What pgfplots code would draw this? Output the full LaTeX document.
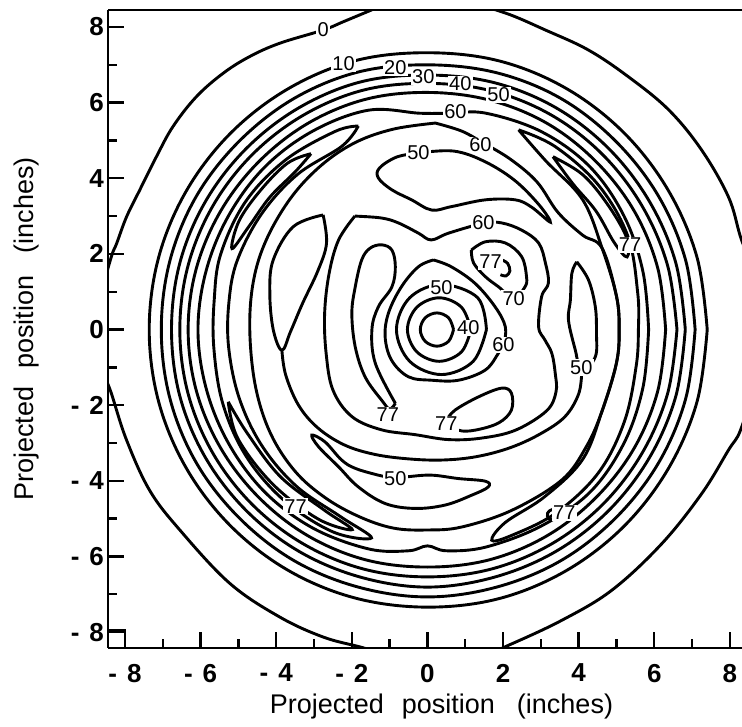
\documentclass[border=0pt]{standalone}
\usepackage{fontspec}
\setmainfont{Liberation Sans}
\usepackage{pgfplots}
\pgfplotsset{compat=1.18}
\begin{document}
\begin{tikzpicture}
\begin{axis}[
  scale only axis, width=317pt, height=319pt,
  xmin=-8.45, xmax=8.32, ymin=-8.42, ymax=8.45,
  axis y line*=left, axis x line*=box,
  axis line style={line width=1.3pt},
  xtick={-8,-6,...,8}, ytick={-8,-6,...,8},
  minor xtick={-7,-5,...,7}, minor ytick={-7,-5,...,7},
  xticklabels={-\hspace{5pt}8,-\hspace{5pt}6,-\hspace{5pt}4,-\hspace{5pt}2,0,2,4,6,8},
  yticklabels={-\hspace{5pt}8,-\hspace{5pt}6,-\hspace{5pt}4,-\hspace{5pt}2,0,2,4,6,8},
  xtick pos=left, ytick pos=left, tick align=inside,
  major tick length=8pt, minor tick length=4.5pt,
  every tick/.style={black, line width=1.2pt},
  tick label style={font=\fontsize{13}{13}\selectfont\bfseries},
  xticklabel style={yshift=-4.5pt},
  yticklabel style={xshift=1.5pt},
  xlabel={Projected\hspace{9pt}position\hspace{11pt}(inches)},
  ylabel={Projected\hspace{9pt}position\hspace{11pt}(inches)},
  label style={font=\fontsize{13.5}{13.5}\selectfont},
  xlabel style={at={(axis description cs:0.526,0)}, anchor=center, yshift=-29.5pt},
  ylabel style={at={(axis description cs:-0.128,0.5)}, anchor=center},
  clip=true,
]
\pgfplotsset{ct/.style={black, solid, line width=1.45pt, smooth, tension=0.6, mark=none}}
% ring 0
\addplot[ct] coordinates {(-1.48,8.45) (-2.2,8.15) (-2.76,7.92) (-3.91,7.57) (-4.70,7.22) (-5.40,6.78) (-6.11,6.16) (-6.73,5.37) (-7.17,4.57) (-7.61,3.69) (-7.96,2.98) (-8.22,2.28) (-8.36,1.93) (-8.6,1.0) (-8.7,0) (-8.6,-1.0) (-8.36,-1.69) (-7.96,-2.92) (-7.35,-4.25) (-6.55,-5.30) (-5.23,-6.71) (-3.91,-7.60) (-2.76,-8.13) (-1.79,-8.39) (-1.0,-8.6) (0.3,-8.7) (1.5,-8.6) (2.14,-8.35) (3.55,-7.69) (4.88,-6.89) (6.20,-5.66) (7.26,-4.33) (7.96,-3.19) (8.28,-2.66) (8.6,-1.5) (8.7,0) (8.6,1.5) (8.28,2.45) (7.96,3.51) (7.25,4.75) (6.38,5.81) (5.32,6.68) (4.26,7.39) (3.12,7.92) (2.06,8.37) (1.0,8.65) (0,8.72) (-1.0,8.62) (-1.48,8.45)};
% rings 10..50
\addplot[ct] coordinates {(7.40,0) (7.13,1.91) (6.37,3.68) (5.20,5.20) (3.68,6.37) (1.91,7.10) (0,7.32) (-1.91,7.11) (-3.68,6.37) (-5.20,5.20) (-6.37,3.68) (-7.11,1.91) (-7.36,0) (-7.11,-1.91) (-6.37,-3.68) (-5.20,-5.20) (-3.68,-6.37) (-1.91,-7.10) (0,-7.34) (1.91,-7.11) (3.68,-6.37) (5.20,-5.20) (6.37,-3.68) (7.13,-1.91) (7.40,0)};
\addplot[ct] coordinates {(7.08,0) (6.83,1.83) (6.11,3.53) (4.98,4.98) (3.53,6.11) (1.83,6.79) (0,7.0) (-1.83,6.81) (-3.53,6.11) (-4.98,4.98) (-6.11,3.53) (-6.81,1.83) (-7.04,0) (-6.81,-1.83) (-6.11,-3.53) (-4.98,-4.98) (-3.53,-6.11) (-1.83,-6.81) (0,-7.07) (1.83,-6.81) (3.53,-6.11) (4.98,-4.98) (6.11,-3.53) (6.83,-1.83) (7.08,0)};
\addplot[ct] coordinates {(6.82,0) (6.57,1.76) (5.87,3.39) (4.79,4.79) (3.39,5.87) (1.76,6.53) (0,6.73) (-1.76,6.55) (-3.39,5.87) (-4.79,4.79) (-5.87,3.39) (-6.55,1.76) (-6.77,0) (-6.55,-1.76) (-5.87,-3.39) (-4.79,-4.79) (-3.39,-5.87) (-1.76,-6.55) (0,-6.81) (1.76,-6.55) (3.39,-5.87) (4.79,-4.79) (5.87,-3.39) (6.57,-1.76) (6.82,0)};
\addplot[ct] coordinates {(6.60,0) (6.35,1.70) (5.67,3.28) (4.63,4.63) (3.28,5.67) (1.70,6.31) (0,6.51) (-1.70,6.33) (-3.28,5.67) (-4.63,4.63) (-5.67,3.28) (-6.33,1.70) (-6.55,0) (-6.33,-1.70) (-5.67,-3.28) (-4.63,-4.63) (-3.28,-5.67) (-1.70,-6.33) (0,-6.54) (1.70,-6.33) (3.28,-5.67) (4.63,-4.63) (5.67,-3.28) (6.35,-1.70) (6.60,0)};
\addplot[ct] coordinates {(6.30,0) (6.09,1.63) (5.46,3.15) (4.45,4.45) (3.15,5.46) (1.63,6.07) (0,6.27) (-1.63,6.09) (-3.15,5.46) (-4.45,4.45) (-5.46,3.15) (-6.11,1.63) (-6.33,0) (-6.11,-1.63) (-5.46,-3.15) (-4.45,-4.45) (-3.15,-5.46) (-1.63,-6.09) (0,-6.28) (1.63,-6.09) (3.15,-5.46) (4.45,-4.45) (5.46,-3.15) (6.09,-1.63) (6.30,0)};
% ring 60
\addplot[ct] coordinates {(5.85,0) (5.70,1.53) (5.20,3.0) (4.30,4.30) (3.02,5.23) (1.55,5.72) (0.6,5.72) (-0.2,5.72) (-1.56,5.80) (-3.03,5.25) (-4.30,4.30) (-5.25,3.03) (-5.85,1.57) (-6.07,0) (-5.85,-1.57) (-5.25,-3.03) (-4.30,-4.30) (-3.03,-5.25) (-1.56,-5.80) (-0.5,-5.85) (0,-5.72) (0.5,-5.85) (1.55,-5.75) (3.0,-5.20) (4.30,-4.30) (5.20,-3.0) (5.70,-1.53) (5.85,0)};
% left 70 band
\addplot[ct] coordinates {(-1.83,5.38) (-2.44,5.24) (-3.76,4.48) (-4.82,3.37) (-5.47,1.99) (-5.64,0.79) (-5.65,-0.49) (-5.41,-1.97) (-4.79,-3.36) (-3.79,-4.52) (-2.50,-5.35) (-1.48,-5.51) (-2.31,-4.94) (-3.47,-4.14) (-4.38,-3.07) (-4.98,-1.81) (-5.26,-0.46) (-5.25,0.74) (-5.03,1.83) (-4.38,3.07) (-3.44,4.10) (-2.26,4.85) (-1.83,5.38)};
% upper-left 77
\addplot[ct] coordinates {(-3.08,4.65) (-3.70,4.40) (-4.40,3.70) (-4.98,2.88) (-5.17,2.14) (-4.72,2.73) (-4.17,3.50) (-3.50,4.17) (-3.08,4.65)};
% lower-left 77
\addplot[ct] coordinates {(-5.27,-1.91) (-5.01,-2.89) (-4.09,-4.09) (-2.89,-5.01) (-1.99,-5.29) (-2.75,-4.76) (-3.89,-3.89) (-4.76,-2.75) (-5.27,-1.91)};
% right 70 band
\addplot[ct] coordinates {(2.41,5.28) (3.39,4.83) (4.53,3.81) (5.30,2.47) (5.56,0.98) (5.58,0) (5.52,-0.97) (5.21,-2.43) (4.52,-3.79) (3.40,-4.85) (2.21,-5.45) (1.70,-5.57) (2.06,-5.10) (3.10,-4.42) (4.10,-3.44) (4.62,-2.15) (5.0,-0.88) (5.07,0) (5.0,0.88) (4.62,2.15) (4.10,3.44) (3.13,4.46) (2.41,5.28)};
% upper-right 77
\addplot[ct] coordinates {(3.32,4.57) (4.10,4.10) (4.75,3.33) (5.26,2.45) (5.28,1.92) (4.94,2.30) (4.46,3.13) (3.85,3.85) (3.32,4.57)};
% tiny lower-right 77
\addplot[ct] coordinates {(3.42,-4.85) (3.30,-4.76) (3.18,-4.85) (3.20,-5.0) (3.35,-5.02)};
% 60b
\addplot[ct] coordinates {(0.21,5.46) (0.9,5.25) (1.45,4.95) (2.2,4.5) (2.9,3.9) (3.45,3.1) (4.1,2.5) (4.62,2.15) (5.0,0.88) (5.07,0) (5.0,-0.88) (4.62,-2.15) (4.2,-3.1) (3.55,-3.98) (2.23,-4.78) (0.91,-5.22) (0,-5.30) (-0.9,-5.25) (-1.8,-4.95) (-2.7,-4.45) (-3.5,-3.75) (-4.15,-2.75) (-4.55,-1.5) (-4.70,0) (-4.6,1.3) (-4.25,2.4) (-3.6,3.5) (-2.8,4.35) (-1.9,4.95) (-0.9,5.3) (0.21,5.46)};
% top 50 loop
\addplot[ct] coordinates {(-0.24,4.67) (0.69,4.72) (1.5,4.45) (2.3,3.95) (2.95,3.3) (3.25,2.84) (2.75,3.24) (2.32,3.43) (1.53,3.43) (0.63,3.25) (0.11,3.16) (-0.42,3.43) (-0.95,3.70) (-1.30,4.01) (-1.27,4.27) (-0.82,4.56) (-0.24,4.67)};
% right 50 loop
\addplot[ct] coordinates {(3.95,1.79) (4.26,1.31) (4.44,0.60) (4.47,-0.09) (4.44,-0.72) (4.08,-1.12) (3.91,-0.54) (3.73,0.25) (3.78,0.78) (3.82,1.49) (3.95,1.79)};
% bottom 50 loop
\addplot[ct] coordinates {(-0.85,-3.94) (-1.30,-3.85) (-1.91,-3.67) (-2.27,-3.45) (-2.71,-2.97) (-3.06,-2.79) (-2.88,-3.10) (-2.35,-3.63) (-1.83,-4.16) (-1.12,-4.60) (-0.33,-4.73) (0.47,-4.64) (1.17,-4.38) (1.61,-4.16) (1.53,-4.01) (0.82,-3.94) (0.11,-3.85) (-0.50,-3.89) (-0.85,-3.94)};
% left 50 loop
\addplot[ct] coordinates {(-2.76,3.03) (-3.55,2.72) (-4.08,1.84) (-4.17,0.96) (-4.08,0.0) (-3.85,-0.55) (-3.62,-0.05) (-3.30,0.70) (-2.90,1.55) (-2.67,2.28) (-2.76,3.03)};
% valley line from left loop round the bottom to the right loop
\addplot[ct] coordinates {(-3.85,-0.55) (-3.75,-1.2) (-3.41,-2.0) (-2.9,-2.6) (-2.2,-3.05) (-1.4,-3.3) (-0.5,-3.42) (0.4,-3.45) (1.3,-3.36) (2.2,-3.12) (3.0,-2.75) (3.64,-2.3) (4.0,-1.7) (4.08,-1.12)};
% inner 60
\addplot[ct] coordinates {(-1.92,3.0) (-1.22,2.95) (-0.77,2.82) (-0.24,2.55) (0.1,2.37) (0.56,2.55) (1.48,2.81) (1.96,2.82) (2.49,2.63) (2.94,2.29) (3.12,1.76) (3.20,1.23) (3.02,0.87) (2.94,0.07) (3.11,-0.28) (3.29,-0.63) (3.38,-1.16) (3.40,-1.65) (3.15,-2.15) (2.33,-2.66) (1.43,-2.87) (0.56,-2.91) (-0.32,-2.78) (-1.22,-2.65) (-2.0,-2.3) (-2.5,-1.6) (-2.68,-0.63) (-2.72,0.43) (-2.6,1.49) (-2.35,2.37) (-1.92,3.0)};
% hairpin 77
\addplot[ct] coordinates {(-0.85,-1.95) (-1.38,-0.89) (-1.47,-0.01) (-1.30,0.60) (-0.94,1.13) (-0.85,1.66) (-0.94,2.10) (-1.21,2.24) (-1.52,2.15) (-1.74,1.84) (-1.91,1.13) (-2.00,0.43) (-1.91,-0.46) (-1.65,-1.25) (-1.21,-1.87) (-1.0,-2.1) (-0.85,-1.95)};
% 70 around small 77
\addplot[ct] coordinates {(1.16,2.10) (1.53,2.32) (2.06,2.29) (2.49,1.93) (2.62,1.40) (2.58,1.13) (2.28,0.83) (1.88,1.13) (1.53,1.40) (1.22,1.76) (1.16,2.10)};
% small 77 curl
\addplot[ct] coordinates {(1.95,1.85) (2.12,1.75) (2.18,1.55) (2.08,1.42) (1.93,1.45)};
% bottom 77 loop
\addplot[ct] coordinates {(0.5,-2.4) (0.73,-2.13) (1.35,-1.78) (1.96,-1.55) (2.22,-1.68) (2.22,-2.13) (1.88,-2.47) (1.26,-2.66) (0.82,-2.66) (0.5,-2.4)};
% triangle 60
\addplot[ct] coordinates {(0.16,1.84) (0.63,1.66) (1.26,1.22) (1.79,0.60) (2.06,0.07) (2.01,-0.41) (1.88,-0.62) (1.53,-1.07) (0.82,-1.34) (0.11,-1.34) (-0.50,-1.25) (-0.95,-0.81) (-1.12,-0.19) (-1.03,0.44) (-0.69,1.13) (-0.24,1.66) (0.16,1.84)};
% center circles
\addplot[ct] coordinates {(1.56,0) (1.33,0.84) (0.37,1.19) (-0.47,0.84) (-0.82,0) (-0.47,-0.84) (0.37,-1.19) (1.21,-0.84) (1.56,0)};
\addplot[ct] coordinates {(1.15,0) (0.90,0.59) (0.31,0.84) (-0.28,0.59) (-0.53,0) (-0.28,-0.59) (0.31,-0.84) (0.90,-0.59) (1.15,0)};
\addplot[ct] coordinates {(0.69,0) (0.56,0.31) (0.25,0.44) (-0.06,0.31) (-0.19,0) (-0.06,-0.31) (0.25,-0.44) (0.56,-0.31) (0.69,0)};
% labels
\tikzset{lab/.style={fill=white, inner sep=0.6pt, font=\fontsize{10}{10}\selectfont}}
\node[lab] at (axis cs:-2.76,7.92) {0};
\node[lab] at (axis cs:-2.22,7.04) {10};
\node[lab] at (axis cs:-0.85,6.92) {20};
\node[lab] at (axis cs:-0.11,6.68) {30};
\node[lab] at (axis cs:0.87,6.49) {40};
\node[lab] at (axis cs:1.88,6.20) {50};
\node[lab] at (axis cs:0.74,5.75) {60};
\node[lab] at (axis cs:1.40,4.88) {60};
\node[lab] at (axis cs:-0.24,4.67) {50};
\node[lab] at (axis cs:1.48,2.82) {60};
\node[lab] at (axis cs:1.67,1.79) {77};
\node[lab] at (axis cs:2.28,0.83) {70};
\node[lab] at (axis cs:0.37,1.12) {50};
\node[lab] at (axis cs:1.08,0.04) {40};
\node[lab] at (axis cs:2.01,-0.41) {60};
\node[lab] at (axis cs:4.07,-1.0) {50};
\node[lab] at (axis cs:5.36,2.24) {77};
\node[lab] at (axis cs:-1.05,-2.25) {77};
\node[lab] at (axis cs:0.50,-2.50) {77};
\node[lab] at (axis cs:-0.85,-3.94) {50};
\node[lab] at (axis cs:-3.49,-4.67) {77};
\node[lab] at (axis cs:3.62,-4.85) {77};
\draw[line width=1.2pt] (axis cs:-8.45,-7.95) -| (axis cs:-8.0,-8.42);
\coordinate (SW) at (rel axis cs:0,0);
\coordinate (NE) at (rel axis cs:1,1);
\end{axis}
\pgfresetboundingbox
\path[use as bounding box] ([xshift=-54pt,yshift=-39.5pt]SW) rectangle ([yshift=5pt]NE);
\end{tikzpicture}
\end{document}
